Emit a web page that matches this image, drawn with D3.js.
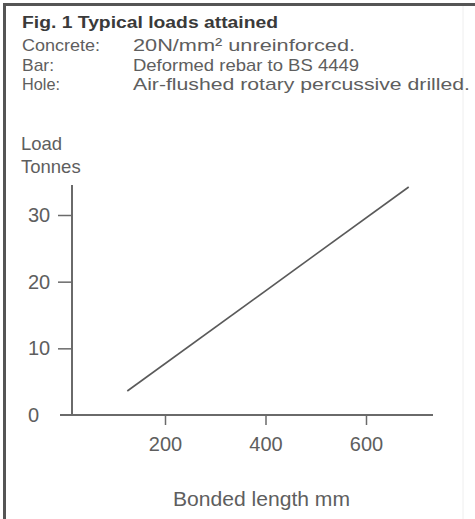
<!DOCTYPE html>
<html><head><meta charset="utf-8">
<script src="https://cdn.jsdelivr.net/npm/d3@7"></script>
<style>
html,body{margin:0;padding:0;background:#fff;}
svg{display:block;}
text{font-family:"Liberation Sans",Arial,sans-serif;fill:#5e5e5e;}
</style></head>
<body>
<svg id="c" width="475" height="519"></svg>
<script>
// Data
const lengthMM = [125, 685];        // bonded length, mm
const loadTonnes = [3.6, 34.2];     // load, tonnes
const xTicks = [200, 400, 600];
const yTicks = [0, 10, 20, 30];
const title = "Fig. 1 Typical loads attained";
const infoLabels = ["Concrete:", "Bar:", "Hole:"];
const infoValues = ["20N/mm² unreinforced.", "Deformed rebar to BS 4449", "Air-flushed rotary percussive drilled."];

const svg = d3.select("#c");

// frame
svg.append("rect").attr("x",0).attr("y",0).attr("width",475).attr("height",519).attr("fill","#fff");
svg.append("line").attr("x1",3).attr("x2",475).attr("y1",4.5).attr("y2",4.5).attr("stroke","#555").attr("stroke-width",3);
svg.append("line").attr("x1",4.5).attr("x2",4.5).attr("y1",3).attr("y2",519).attr("stroke","#555").attr("stroke-width",3);
svg.append("line").attr("x1",463).attr("x2",463).attr("y1",6).attr("y2",519).attr("stroke","#eee").attr("stroke-width",1);

// header text
svg.append("text").attr("x",22).attr("y",28).text(title)
  .style("font-weight","bold").style("font-size","16px").style("fill","#3a3a3a")
  .attr("textLength",256).attr("lengthAdjust","spacingAndGlyphs");
const rowY = [51, 71, 90];
const labelWidths = [78, 32, 38];
const valueWidths = [222, 226, 337];
infoLabels.forEach((t,i)=>{
  svg.append("text").attr("x",22).attr("y",rowY[i]).text(t).style("font-size","17px")
    .attr("textLength",labelWidths[i]).attr("lengthAdjust","spacingAndGlyphs");
});
infoValues.forEach((t,i)=>{
  svg.append("text").attr("x",133).attr("y",rowY[i]).text(t).style("font-size","17px")
    .attr("textLength",valueWidths[i]).attr("lengthAdjust","spacingAndGlyphs");
});

// scales
const x = d3.scaleLinear().domain([200,600]).range([165,366]);
const y = d3.scaleLinear().domain([0,30]).range([415,215]);

const axisCol = "#6a6a6a";
// x axis
svg.append("line").attr("x1",60).attr("x2",433).attr("y1",y(0)).attr("y2",y(0)).attr("stroke",axisCol).attr("stroke-width",2);
const gx = svg.append("g").attr("transform",`translate(0,${y(0)})`)
  .call(d3.axisBottom(x).tickValues(xTicks).tickSize(10).tickPadding(12).tickFormat(d3.format("d")));
gx.select(".domain").remove();
gx.selectAll(".tick line").attr("stroke",axisCol).attr("stroke-width",1.5);
gx.selectAll(".tick text").style("font-size","20px").style("font-family","'Liberation Sans',Arial,sans-serif").attr("fill","#666");

// y axis
const yAxisX = 72;
svg.append("line").attr("x1",yAxisX).attr("x2",yAxisX).attr("y1",185).attr("y2",y(0)).attr("stroke",axisCol).attr("stroke-width",2);
const gy = svg.append("g").attr("transform",`translate(${yAxisX},0)`)
  .call(d3.axisLeft(y).tickValues(yTicks).tickSize(14).tickPadding(6).tickFormat(d3.format("d")));
gy.select(".domain").remove();
gy.selectAll(".tick line").attr("stroke",axisCol).attr("stroke-width",1.5).attr("x1",0);
gy.selectAll(".tick").filter(d=>d===0).select("line").remove();
gy.selectAll(".tick text").style("font-size","20px").style("font-family","'Liberation Sans',Arial,sans-serif").attr("fill","#666")
  .attr("text-anchor","start").attr("x",-44);

// axis titles
svg.append("text").attr("x",21).attr("y",150).text("Load").style("font-size","18.5px");
svg.append("text").attr("x",21).attr("y",173).text("Tonnes").style("font-size","18.5px");
svg.append("text").attr("x",173).attr("y",506).text("Bonded length mm").style("font-size","20px")
  .attr("textLength",177).attr("lengthAdjust","spacingAndGlyphs");

// data line
const pts = lengthMM.map((v,i)=>[v, loadTonnes[i]]);
svg.append("path").datum(pts)
  .attr("d", d3.line().x(d=>x(d[0])).y(d=>y(d[1])))
  .attr("fill","none").attr("stroke","#5a5a5a").attr("stroke-width",1.6);
</script>
</body></html>
